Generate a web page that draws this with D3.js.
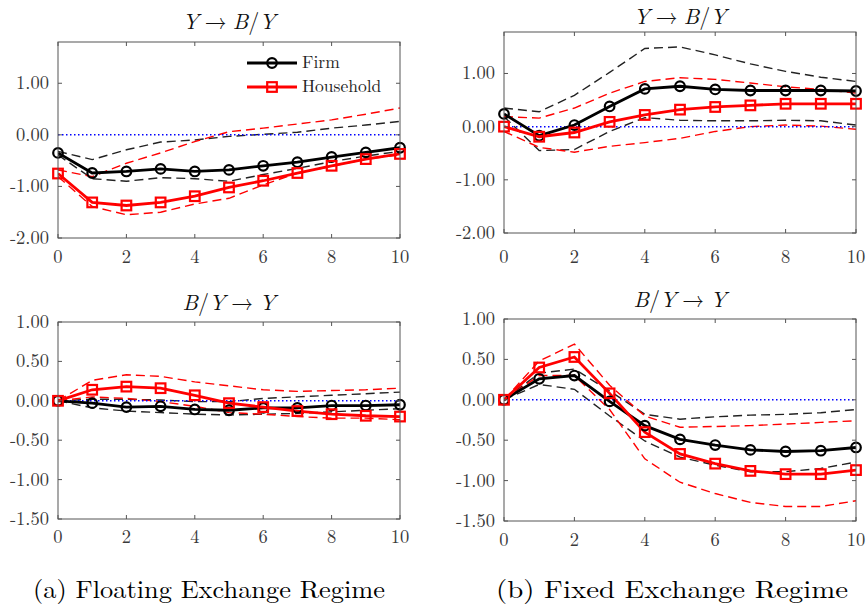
<!DOCTYPE html>
<html>
<head>
<meta charset="utf-8">
<script src="https://cdn.jsdelivr.net/npm/d3@7"></script>
<style>
  body { margin: 0; background: #fff; }
  svg { display: block; }
</style>
</head>
<body>
<div id="container"></div>
<script>
/* DATA */
const steps = [0, 1, 2, 3, 4, 5, 6, 7, 8, 9, 10];
const xTicks = [0, 2, 4, 6, 8, 10];
const yTicksTop = [-2, -1, 0, 1];
const yTicksBottom = [-1.5, -1, -0.5, 0, 0.5, 1];
const seriesNames = ["Firm", "Household"];
const captions = ["(a) Floating Exchange Regime", "(b) Fixed Exchange Regime"];

// floating regime, Y -> B/Y
const fltYBFirm   = [-0.35, -0.74, -0.71, -0.66, -0.71, -0.68, -0.60, -0.53, -0.43, -0.34, -0.25];
const fltYBFirmHi = [-0.32, -0.48, -0.29, -0.14, -0.10, -0.03, 0.01, 0.05, 0.13, 0.19, 0.26];
const fltYBFirmLo = [-0.39, -0.85, -0.90, -0.83, -0.85, -0.90, -0.77, -0.65, -0.52, -0.41, -0.32];
const fltYBHh     = [-0.75, -1.31, -1.37, -1.31, -1.19, -1.02, -0.89, -0.74, -0.60, -0.47, -0.37];
const fltYBHhHi   = [-0.68, -0.81, -0.55, -0.35, -0.13, 0.06, 0.13, 0.21, 0.29, 0.40, 0.52];
const fltYBHhLo   = [-0.81, -1.39, -1.55, -1.50, -1.34, -1.23, -0.97, -0.74, -0.61, -0.47, -0.39];

// fixed regime, Y -> B/Y
const fixYBFirm   = [0.24, -0.17, 0.03, 0.38, 0.71, 0.76, 0.70, 0.68, 0.68, 0.68, 0.67];
const fixYBFirmHi = [0.35, 0.28, 0.59, 1.02, 1.47, 1.50, 1.35, 1.18, 1.04, 0.93, 0.85];
const fixYBFirmLo = [0.19, -0.45, -0.43, -0.09, 0.17, 0.12, 0.11, 0.11, 0.12, 0.11, 0.03];
const fixYBHh     = [0.00, -0.19, -0.11, 0.09, 0.22, 0.32, 0.37, 0.40, 0.43, 0.43, 0.43];
const fixYBHhHi   = [0.19, 0.16, 0.35, 0.63, 0.85, 0.92, 0.89, 0.82, 0.75, 0.70, 0.63];
const fixYBHhLo   = [-0.09, -0.39, -0.48, -0.37, -0.30, -0.22, -0.09, 0.00, 0.03, 0.01, -0.05];

// floating regime, B/Y -> Y
const fltBYFirm   = [0.00, -0.03, -0.08, -0.07, -0.11, -0.12, -0.09, -0.09, -0.06, -0.06, -0.05];
const fltBYFirmHi = [0.00, 0.02, 0.02, 0.01, -0.01, -0.01, 0.03, 0.05, 0.07, 0.09, 0.11];
const fltBYFirmLo = [0.00, -0.09, -0.13, -0.15, -0.17, -0.18, -0.17, -0.16, -0.14, -0.12, -0.10];
const fltBYHh     = [0.00, 0.14, 0.18, 0.16, 0.07, -0.03, -0.08, -0.13, -0.17, -0.19, -0.20];
const fltBYHhHi   = [0.00, 0.26, 0.33, 0.31, 0.24, 0.19, 0.14, 0.12, 0.13, 0.14, 0.16];
const fltBYHhLo   = [0.00, 0.05, 0.03, -0.01, -0.07, -0.15, -0.17, -0.20, -0.22, -0.22, -0.24];

// fixed regime, B/Y -> Y
const fixBYFirm   = [0.00, 0.26, 0.30, -0.02, -0.32, -0.49, -0.56, -0.62, -0.64, -0.63, -0.59];
const fixBYFirmHi = [0.00, 0.33, 0.38, 0.11, -0.18, -0.24, -0.21, -0.19, -0.18, -0.16, -0.12];
const fixBYFirmLo = [0.00, 0.19, 0.13, -0.20, -0.51, -0.71, -0.81, -0.89, -0.89, -0.85, -0.77];
const fixBYHh     = [0.00, 0.40, 0.53, 0.08, -0.40, -0.67, -0.79, -0.88, -0.92, -0.92, -0.87];
const fixBYHhHi   = [0.00, 0.48, 0.69, 0.18, -0.20, -0.34, -0.33, -0.32, -0.30, -0.28, -0.26];
const fixBYHhLo   = [0.00, 0.30, 0.30, -0.12, -0.73, -1.02, -1.16, -1.27, -1.32, -1.32, -1.25];

/* LAYOUT */
const width = 868;
const height = 607;
const serif = "Latin Modern Roman, CMU Serif, serif";
const black = "#000";
const red = "#ff0000";
// plain hyphen as in the original labels
const fmt = v => d3.format('.2f')(v).replace('\u2212', '-');

const panels = [
  { box: [58, 400, 42, 238], domain: [-2, 1.8], yTicks: yTicksTop, title: 0, legend: true,
    firm: [fltYBFirm, fltYBFirmHi, fltYBFirmLo], hh: [fltYBHh, fltYBHhHi, fltYBHhLo], titleY: 29, xLabY: 263 },
  { box: [504, 856, 32, 233], domain: [-2, 1.78], yTicks: yTicksTop, title: 0, legend: false,
    firm: [fixYBFirm, fixYBFirmHi, fixYBFirmLo], hh: [fixYBHh, fixYBHhHi, fixYBHhLo], titleY: 24, xLabY: 263 },
  { box: [58, 400, 322, 519], domain: [-1.5, 1], yTicks: yTicksBottom, title: 1, legend: false,
    firm: [fltBYFirm, fltBYFirmHi, fltBYFirmLo], hh: [fltBYHh, fltBYHhHi, fltBYHhLo], titleY: 310, xLabY: 543 },
  { box: [504, 856, 319, 521], domain: [-1.5, 1], yTicks: yTicksBottom, title: 1, legend: false,
    firm: [fixBYFirm, fixBYFirmHi, fixBYFirmLo], hh: [fixBYHh, fixBYHhHi, fixBYHhLo], titleY: 307, xLabY: 546 }
];

const svg = d3.select('#container')
  .append('svg')
  .attr('width', width)
  .attr('height', height)
  .style('font-family', serif);

panels.forEach(p => {
  const [x0, x1, y0, y1] = p.box;
  const xScale = d3.scaleLinear().domain([0, 10]).range([x0, x1]);
  const yScale = d3.scaleLinear().domain(p.domain).range([y1, y0]);
  const g = svg.append('g');

  // title: italic symbols, upright arrow
  const t = g.append('text')
    .attr('x', (x0 + x1) / 2)
    .attr('y', p.titleY)
    .attr('text-anchor', 'middle')
    .attr('font-size', 22)
    .attr('fill', '#111');
  const sym = s => t.append('tspan').attr('font-style', 'italic').text(s);
  const arrow = () => {
    t.append('tspan').attr('dx', 6).text('→');
    return t.append('tspan').attr('dx', 6);
  };
  if (p.title === 0) {
    sym('Y');
    arrow().attr('font-style', 'italic').text('B');
    t.append('tspan').text('/');
    sym('Y');
  } else {
    sym('B');
    t.append('tspan').text('/');
    sym('Y');
    arrow().attr('font-style', 'italic').text('Y');
  }

  const clipId = 'clip' + x0 + y0;
  g.append('clipPath').attr('id', clipId)
    .append('rect').attr('x', x0).attr('y', y0).attr('width', x1 - x0).attr('height', y1 - y0);
  const plot = g.append('g').attr('clip-path', `url(#${clipId})`);

  const line = d3.line()
    .x((d, i) => xScale(steps[i]))
    .y(d => yScale(d));

  // error bands
  [[p.firm[1], '#222'], [p.firm[2], '#222'], [p.hh[1], red], [p.hh[2], red]].forEach(([arr, col]) => {
    plot.append('path')
      .attr('d', line(arr))
      .attr('fill', 'none')
      .attr('stroke', col)
      .attr('stroke-width', 1.4)
      .attr('stroke-dasharray', '9,5');
  });

  // zero line
  plot.append('line')
    .attr('x1', xScale(0)).attr('x2', xScale(10))
    .attr('y1', yScale(0)).attr('y2', yScale(0))
    .attr('stroke', '#0000ff')
    .attr('stroke-width', 1.5)
    .attr('stroke-dasharray', '1.5,2.5');

  // main responses
  plot.append('path')
    .attr('d', line(p.firm[0]))
    .attr('fill', 'none').attr('stroke', black).attr('stroke-width', 2.8);
  plot.append('path')
    .attr('d', line(p.hh[0]))
    .attr('fill', 'none').attr('stroke', red).attr('stroke-width', 2.8);

  g.selectAll('circle.firm')
    .data(p.firm[0])
    .join('circle')
    .attr('class', 'firm')
    .attr('cx', (d, i) => xScale(steps[i]))
    .attr('cy', d => yScale(d))
    .attr('r', 4.8)
    .attr('fill', 'none')
    .attr('stroke', black)
    .attr('stroke-width', 2.2);

  g.selectAll('rect.hh')
    .data(p.hh[0])
    .join('rect')
    .attr('class', 'hh')
    .attr('x', (d, i) => xScale(steps[i]) - 4.8)
    .attr('y', d => yScale(d) - 4.8)
    .attr('width', 9.6)
    .attr('height', 9.6)
    .attr('fill', 'none')
    .attr('stroke', red)
    .attr('stroke-width', 2.2);

  // frame and inward ticks
  g.append('rect')
    .attr('x', x0).attr('y', y0)
    .attr('width', x1 - x0).attr('height', y1 - y0)
    .attr('fill', 'none').attr('stroke', '#555').attr('stroke-width', 1);

  xTicks.forEach(v => {
    g.append('line').attr('x1', xScale(v)).attr('x2', xScale(v))
      .attr('y1', y1).attr('y2', y1 - 4).attr('stroke', '#555');
    g.append('line').attr('x1', xScale(v)).attr('x2', xScale(v))
      .attr('y1', y0).attr('y2', y0 + 4).attr('stroke', '#555');
    g.append('text')
      .attr('x', xScale(v)).attr('y', p.xLabY)
      .attr('text-anchor', 'middle')
      .attr('font-size', 18.5).attr('fill', '#3a3a3a')
      .text(v);
  });

  p.yTicks.forEach(v => {
    g.append('line').attr('x1', x0).attr('x2', x0 + 4)
      .attr('y1', yScale(v)).attr('y2', yScale(v)).attr('stroke', '#555');
    g.append('line').attr('x1', x1).attr('x2', x1 - 4)
      .attr('y1', yScale(v)).attr('y2', yScale(v)).attr('stroke', '#555');
    g.append('text')
      .attr('x', x0 - 9).attr('y', yScale(v) + 6)
      .attr('text-anchor', 'end')
      .attr('font-size', 18.5).attr('fill', '#3a3a3a')
      .text(fmt(v));
  });

  if (p.legend) {
    const lx = 247, lw = 50;
    seriesNames.forEach((name, i) => {
      const ly = 63 + i * 24;
      const col = i === 0 ? black : red;
      g.append('line').attr('x1', lx).attr('x2', lx + lw)
        .attr('y1', ly).attr('y2', ly)
        .attr('stroke', col).attr('stroke-width', 2.8);
      if (i === 0) {
        g.append('circle').attr('cx', lx + lw / 2).attr('cy', ly).attr('r', 4.8)
          .attr('fill', 'none').attr('stroke', col).attr('stroke-width', 2.2);
      } else {
        g.append('rect').attr('x', lx + lw / 2 - 4.8).attr('y', ly - 4.8)
          .attr('width', 9.6).attr('height', 9.6)
          .attr('fill', 'none').attr('stroke', col).attr('stroke-width', 2.2);
      }
      g.append('text').attr('x', lx + lw + 5).attr('y', ly + 5)
        .attr('font-size', 17.5).attr('fill', '#222')
        .text(name);
    });
  }
});

// captions
[[209, captions[0]], [672, captions[1]]].forEach(([cx, txt]) => {
  svg.append('text')
    .attr('x', cx).attr('y', 598)
    .attr('text-anchor', 'middle')
    .attr('font-size', 25)
    .attr('textLength', 352)
    .attr('lengthAdjust', 'spacingAndGlyphs')
    .text(txt);
});
</script>
</body>
</html>
